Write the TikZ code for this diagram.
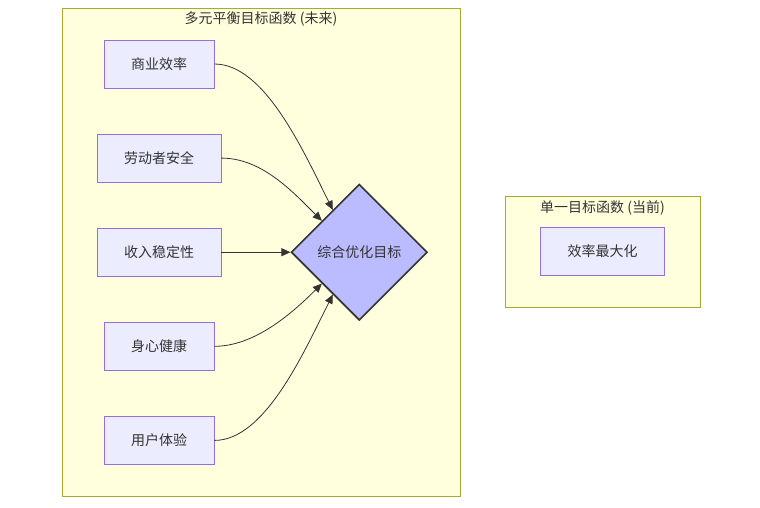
\documentclass[tikz,border=0pt]{standalone}
\usepackage{fontspec}
\setmainfont{Noto Sans CJK SC}
\usetikzlibrary{positioning,shapes.geometric,arrows.meta}
\definecolor{clusterfill}{HTML}{FFFFDE}
\definecolor{clusterline}{HTML}{AAAA33}
\definecolor{boxfill}{HTML}{ECECFF}
\definecolor{boxline}{HTML}{9370DB}
\definecolor{goalfill}{HTML}{BBBBFF}
\definecolor{ink}{HTML}{333333}

\begin{document}
\begin{tikzpicture}[
		x=1pt, y=-1pt,
		font=\fontsize{14}{16}\selectfont, text=ink,
		cluster/.style={rectangle, draw=clusterline, fill=clusterfill, line width=1pt, inner sep=0pt},
		title/.style={inner sep=0pt},
		block/.style={rectangle, draw=boxline, fill=boxfill, line width=0.9pt, minimum height=48pt, inner xsep=27pt},
		goal/.style={diamond, draw=ink, fill=goalfill, line width=1.6pt, minimum width=136pt, minimum height=136pt, aspect=1, inner sep=0pt},
		edge/.style={draw=ink, line width=0.8pt, -{Triangle[length=9pt,width=8pt]}},
		node distance=45.2pt,
		]
		\useasboundingbox (0,0) rectangle (760,507);

		%Clusters
		\node[cluster, minimum width=398pt, minimum height=488pt]	(future)	at (261,252)	{};
		\node[title]	(future_title)	[below=4pt of future.north]	{多元平衡目标函数 (未来)};
		\node[cluster, minimum width=195pt, minimum height=111pt]	(present)	at (602.5,251.5)	{};
		\node[title]	(present_title)	[below=5pt of present.north]	{单一目标函数 (当前)};

		%Future Objectives
		\node[block]	(biz)		at (159,64)			{商业效率};
		\node[block]	(safety)	[below=of biz]		{劳动者安全};
		\node[block]	(income)	[below=of safety]	{收入稳定性};
		\node[block]	(health)	[below=of income]	{身心健康};
		\node[block]	(user)		[below=of health]	{用户体验};
		\node[goal]		(goal)		[right=69pt of income]	{综合优化目标};

		%Current Objective
		\node[block]	(efficiency)	at (602.5,251.5)	{效率最大化};

		%Lines
		\draw[edge] (biz.east)		.. controls +(50,0) and +(-30,-60) ..	(goal.122);
		\draw[edge] (safety.east)	.. controls +(40,0) and +(-30,-30) ..	(goal.140);
		\draw[edge] (income.east)	--	(goal.west);
		\draw[edge] (health.east)	.. controls +(40,0) and +(-30,30) ..	(goal.220);
		\draw[edge] (user.east)		.. controls +(50,0) and +(-30,60) ..	(goal.238);

	\end{tikzpicture}
\end{document}
